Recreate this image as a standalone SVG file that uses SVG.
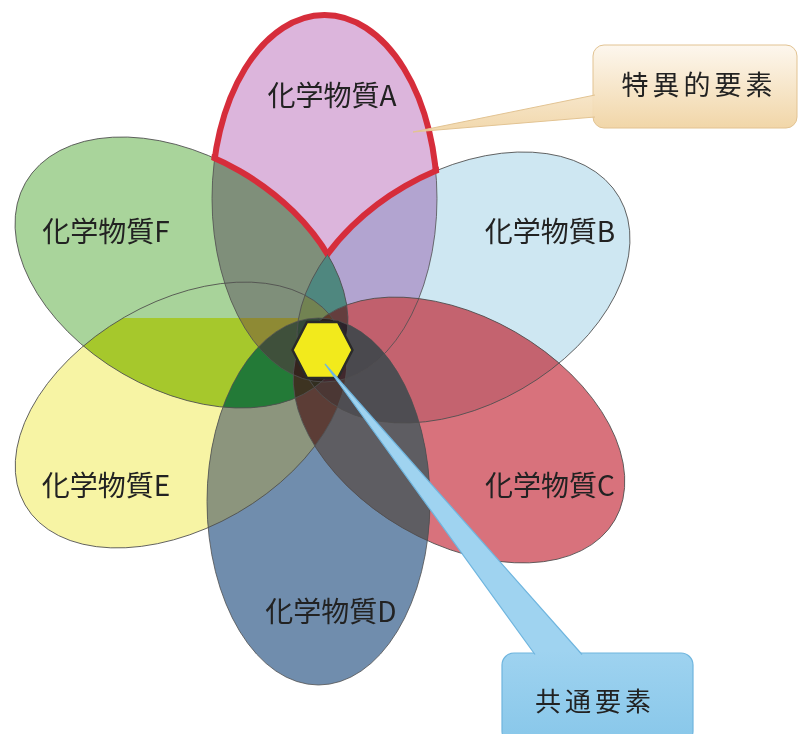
<svg xmlns="http://www.w3.org/2000/svg" xmlns:xlink="http://www.w3.org/1999/xlink" width="800" height="734" viewBox="0 0 800 734">
  <style>
    .petal { mix-blend-mode: multiply; }
    .outl { fill: none; stroke: #505050; stroke-width: 0.8; }
    .lbl { font-family: "Noto Sans CJK JP", "Noto Sans", sans-serif; font-size: 28px; fill: #222; text-anchor: middle; }
    .call { font-family: "Noto Sans CJK JP", "Noto Sans", sans-serif; fill: #222; text-anchor: middle; letter-spacing: 4px; }
    .red { fill: none; stroke: #d62d3b; stroke-width: 6; }
  </style>
  <defs>
    <ellipse id="eA" cx="324.5" cy="198.5" rx="112.5" ry="183.5"/>
    <ellipse id="eB" cx="463.5" cy="287.5" rx="180" ry="117" transform="rotate(-30 463.5 287.5)"/>
    <ellipse id="eC" cx="459" cy="430" rx="180" ry="113" transform="rotate(30 459 430)"/>
    <ellipse id="eD" cx="318.5" cy="501.5" rx="111.5" ry="183.5"/>
    <ellipse id="eE" cx="181" cy="415" rx="180" ry="113" transform="rotate(-30 181 415)"/>
    <ellipse id="eF" cx="181.5" cy="272.5" rx="180" ry="117" transform="rotate(30 181.5 272.5)"/>
    <clipPath id="cA"><use xlink:href="#eA"/></clipPath>
    <clipPath id="cB"><use xlink:href="#eB"/></clipPath>
    <clipPath id="cC"><use xlink:href="#eC"/></clipPath>
    <clipPath id="cD"><use xlink:href="#eD"/></clipPath>
    <clipPath id="cE"><use xlink:href="#eE"/></clipPath>
    <clipPath id="cF"><use xlink:href="#eF"/></clipPath>
    <linearGradient id="gTan" gradientUnits="userSpaceOnUse" x1="0" y1="45" x2="0" y2="128">
      <stop offset="0" stop-color="#fdf7ee"/>
      <stop offset="1" stop-color="#f1d6a8"/>
    </linearGradient>
    <linearGradient id="gBlue" gradientUnits="userSpaceOnUse" x1="0" y1="650" x2="0" y2="734">
      <stop offset="0" stop-color="#9fd3f0"/>
      <stop offset="1" stop-color="#8ac8ea"/>
    </linearGradient>
    <mask id="mAred" maskUnits="userSpaceOnUse" x="0" y="0" width="800" height="734">
      <rect width="800" height="734" fill="#fff"/>
      <use xlink:href="#eF" fill="#000"/><use xlink:href="#eB" fill="#000"/>
    </mask>
    <mask id="mFred" maskUnits="userSpaceOnUse" x="0" y="0" width="800" height="734">
      <use xlink:href="#eA" fill="#fff" stroke="#fff" stroke-width="7"/>
      <use xlink:href="#eB" fill="#000"/>
    </mask>
    <mask id="mBred" maskUnits="userSpaceOnUse" x="0" y="0" width="800" height="734">
      <use xlink:href="#eA" fill="#fff" stroke="#fff" stroke-width="7"/>
      <use xlink:href="#eF" fill="#000"/>
    </mask>
    <mask id="mBC" maskUnits="userSpaceOnUse" x="0" y="0" width="800" height="734">
      <rect width="800" height="734" fill="#fff"/>
      <use xlink:href="#eA" fill="#000"/><use xlink:href="#eD" fill="#000"/><use xlink:href="#eE" fill="#000"/><use xlink:href="#eF" fill="#000"/>
    </mask>
    <mask id="mCD" maskUnits="userSpaceOnUse" x="0" y="0" width="800" height="734">
      <rect width="800" height="734" fill="#fff"/>
      <use xlink:href="#eA" fill="#000"/><use xlink:href="#eB" fill="#000"/><use xlink:href="#eE" fill="#000"/><use xlink:href="#eF" fill="#000"/>
    </mask>
    <mask id="mDE" maskUnits="userSpaceOnUse" x="0" y="0" width="800" height="734">
      <rect width="800" height="734" fill="#fff"/>
      <use xlink:href="#eA" fill="#000"/><use xlink:href="#eB" fill="#000"/><use xlink:href="#eC" fill="#000"/><use xlink:href="#eF" fill="#000"/>
    </mask>
    <mask id="mEF" maskUnits="userSpaceOnUse" x="0" y="0" width="800" height="734">
      <rect width="800" height="734" fill="#fff"/>
      <use xlink:href="#eA" fill="#000"/><use xlink:href="#eB" fill="#000"/><use xlink:href="#eC" fill="#000"/><use xlink:href="#eD" fill="#000"/>
    </mask>
    <mask id="mFA" maskUnits="userSpaceOnUse" x="0" y="0" width="800" height="734">
      <rect width="800" height="734" fill="#fff"/>
      <use xlink:href="#eB" fill="#000"/><use xlink:href="#eC" fill="#000"/><use xlink:href="#eD" fill="#000"/><use xlink:href="#eE" fill="#000"/>
    </mask>
    <mask id="mABF" maskUnits="userSpaceOnUse" x="0" y="0" width="800" height="734">
      <rect width="800" height="734" fill="#fff"/>
      <use xlink:href="#eC" fill="#000"/><use xlink:href="#eD" fill="#000"/><use xlink:href="#eE" fill="#000"/>
    </mask>
    <mask id="mDEF" maskUnits="userSpaceOnUse" x="0" y="0" width="800" height="734">
      <rect width="800" height="734" fill="#fff"/>
      <use xlink:href="#eA" fill="#000"/><use xlink:href="#eB" fill="#000"/><use xlink:href="#eC" fill="#000"/>
    </mask>
    <mask id="mAEF" maskUnits="userSpaceOnUse" x="0" y="0" width="800" height="734">
      <rect width="800" height="734" fill="#fff"/>
      <use xlink:href="#eB" fill="#000"/><use xlink:href="#eC" fill="#000"/><use xlink:href="#eD" fill="#000"/>
    </mask>
    <mask id="mBCD" maskUnits="userSpaceOnUse" x="0" y="0" width="800" height="734">
      <rect width="800" height="734" fill="#fff"/>
      <use xlink:href="#eA" fill="#000"/><use xlink:href="#eE" fill="#000"/><use xlink:href="#eF" fill="#000"/>
    </mask>
    <mask id="mABC" maskUnits="userSpaceOnUse" x="0" y="0" width="800" height="734">
      <rect width="800" height="734" fill="#fff"/>
      <use xlink:href="#eD" fill="#000"/><use xlink:href="#eE" fill="#000"/><use xlink:href="#eF" fill="#000"/>
    </mask>
    <mask id="mABCD" maskUnits="userSpaceOnUse" x="0" y="0" width="800" height="734">
      <rect width="800" height="734" fill="#fff"/>
      <use xlink:href="#eE" fill="#000"/><use xlink:href="#eF" fill="#000"/>
    </mask>
  </defs>
  <rect x="0" y="0" width="800" height="734" fill="#ffffff"/>
  <g id="flower" style="isolation:isolate">
    <g id="petal-A" class="petal">
      <use xlink:href="#eA" fill="#dcb5dc"/>
      <text class="lbl" x="332" y="106">化学物質A</text>
    </g>
    <g id="petal-B" class="petal">
      <use xlink:href="#eB" fill="#cee7f2"/>
      <text class="lbl" x="550" y="242">化学物質B</text>
    </g>
    <g id="petal-C" class="petal">
      <use xlink:href="#eC" fill="#d8727c"/>
      <text class="lbl" x="550" y="496">化学物質C</text>
    </g>
    <g id="petal-D" class="petal">
      <use xlink:href="#eD" fill="#708dad"/>
      <text class="lbl" x="331" y="622">化学物質D</text>
    </g>
    <g id="petal-E" class="petal">
      <use xlink:href="#eE" fill="#f7f4a4"/>
      <text class="lbl" x="106" y="496">化学物質E</text>
    </g>
    <g id="petal-F" class="petal">
      <use xlink:href="#eF" fill="#a9d49b"/>
      <text class="lbl" x="106" y="242">化学物質F</text>
    </g>
  </g>
  <g id="overlap-tints">
    <g mask="url(#mBC)"><g clip-path="url(#cB)"><use xlink:href="#eC" fill="#c4636f"/></g></g>
    <g mask="url(#mCD)"><g clip-path="url(#cC)"><use xlink:href="#eD" fill="#5e5d62"/></g></g>
    <g mask="url(#mDE)"><g clip-path="url(#cD)"><use xlink:href="#eE" fill="#8c957d"/></g></g>
    <g mask="url(#mEF)"><g clip-path="url(#cE)"><g clip-path="url(#cF)">
      <rect x="0" y="0" width="800" height="318" fill="#a8d39a"/>
      <rect x="0" y="318" width="800" height="416" fill="#a6c82c"/>
    </g></g></g>
    <g mask="url(#mFA)"><g clip-path="url(#cF)"><use xlink:href="#eA" fill="#7f8f7a"/></g></g>
    <g mask="url(#mABF)"><g clip-path="url(#cA)"><g clip-path="url(#cB)"><use xlink:href="#eF" fill="#4f877f"/></g></g></g>
    <g mask="url(#mDEF)"><g clip-path="url(#cD)"><g clip-path="url(#cE)"><use xlink:href="#eF" fill="#237a37"/></g></g></g>
    <g mask="url(#mAEF)"><g clip-path="url(#cA)"><g clip-path="url(#cE)"><g clip-path="url(#cF)">
      <rect x="0" y="0" width="800" height="318" fill="#7f8f7a"/>
      <rect x="0" y="318" width="800" height="416" fill="#8e8a34"/>
    </g></g></g></g>
    <g mask="url(#mBCD)"><g clip-path="url(#cB)"><g clip-path="url(#cC)"><use xlink:href="#eD" fill="#4e4d52"/></g></g></g>
    <g mask="url(#mABC)"><g clip-path="url(#cA)"><g clip-path="url(#cB)"><use xlink:href="#eC" fill="#c1606d"/></g></g></g>
    <g mask="url(#mABCD)"><g clip-path="url(#cA)"><g clip-path="url(#cB)"><g clip-path="url(#cC)"><use xlink:href="#eD" fill="#4a494e"/></g></g></g></g>
  </g>
  <g id="petal-outlines">
    <use xlink:href="#eA" class="outl"/>
    <use xlink:href="#eB" class="outl"/>
    <use xlink:href="#eC" class="outl"/>
    <use xlink:href="#eD" class="outl"/>
    <use xlink:href="#eE" class="outl"/>
    <use xlink:href="#eF" class="outl"/>
  </g>
  <g id="specific-region-outline">
    <g mask="url(#mAred)"><use xlink:href="#eA" class="red"/></g>
    <g mask="url(#mFred)"><use xlink:href="#eF" class="red"/></g>
    <g mask="url(#mBred)"><use xlink:href="#eB" class="red"/></g>
  </g>
  <g id="common-hexagon">
    <polygon points="352.5,350 338,322 307,322 292.5,350 307,378 338,378" fill="#f2ea1c" stroke="#2a2a2a" stroke-width="2.5" stroke-linejoin="round"/>
  </g>
  <g id="callout-specific">
    <rect x="593" y="45" width="204" height="83" rx="11" fill="url(#gTan)" stroke="#e2c392" stroke-width="1"/>
    <text class="call" x="699" y="95" font-size="27">特異的要素</text>
  </g>
  <g id="callout-common">
    <rect x="502" y="653" width="191" height="90" rx="12" fill="url(#gBlue)" stroke="#6fb5de" stroke-width="1.2"/>
    <text class="call" x="595" y="711" font-size="26">共通要素</text>
  </g>
  <g id="connectors">
    <path d="M595,95 L413,132 L595,117" fill="url(#gTan)" fill-opacity="0.92" stroke="#e2c392" stroke-width="1"/>
    <path d="M535,654.5 L325,364 L582,654.5" fill="url(#gBlue)" stroke="#6fb5de" stroke-width="1.2"/>
  </g>
</svg>
